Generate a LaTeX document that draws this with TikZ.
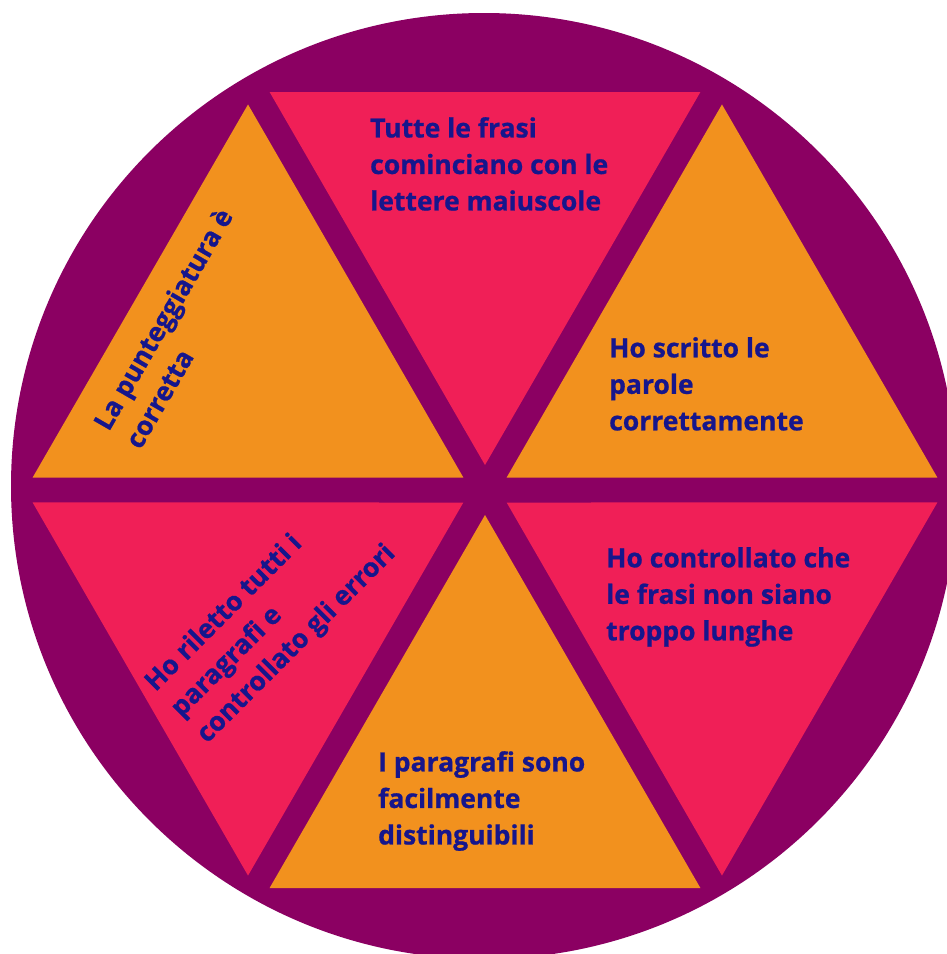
\documentclass[tikz,border=0pt]{standalone}
\usepackage{fontspec}
\setmainfont{Open Sans}[BoldFeatures={FakeBold=0.8}]
\usetikzlibrary{calc}
\definecolor{wheelpurple}{RGB}{139,0,98}
\definecolor{wheelpink}{RGB}{240,31,87}
\definecolor{wheelorange}{RGB}{242,145,30}
\definecolor{wheeltext}{RGB}{22,22,140}
\tikzset{
  label text/.style={anchor=north west, inner sep=0pt, align=left, text=wheeltext,
    font=\fontsize{26.5}{36.5}\selectfont\bfseries},
}
\begin{document}
\begin{tikzpicture}[x=1pt,y=-1pt]
\useasboundingbox (0,0) rectangle (946,954);
\fill[white] (0,0) rectangle (946,954);
\coordinate (O) at (484,486);
\coordinate (C) at (485,490);
\fill[wheelpurple] (O) circle[radius=473];
\foreach \k/\col in {0/wheelorange,1/wheelpink,2/wheelorange,3/wheelpink,4/wheelorange,5/wheelpink}{
  \pgfmathsetmacro\b{30+60*\k}
  \fill[\col] ($(C)+(-\b:25)$) -- ($(C)+(-\b:398)+(-\b+90:215.4)$) -- ($(C)+(-\b:398)+(-\b-90:215.4)$) -- cycle;
}
\node[label text] (t1) at (370,117) {Tutte le frasi\\cominciano con le\\lettere maiuscole};
\node[label text] (t2) at (609,337) {Ho scritto le\\parole\\correttamente};
\node[label text] (t3) at (606,547) {Ho controllato che\\le frasi non siano\\troppo lunghe};
\node[label text] (t4) at (378,751) {I paragrafi sono\\facilmente\\distinguibili};
\node[label text, rotate=60] (t5) at (91,422) {La punteggiatura è\\corretta};
\node[label text, rotate=45] (t6) at (141,678) {Ho riletto tutti i\\paragrafi e\\controllato gli errori};
\end{tikzpicture}
\end{document}
